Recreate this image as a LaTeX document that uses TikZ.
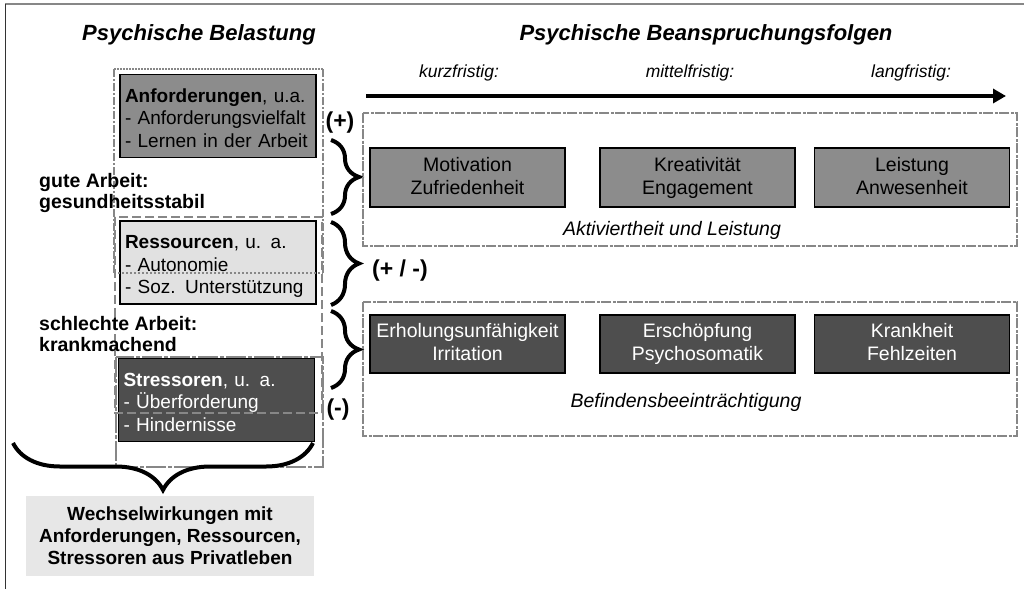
\documentclass[tikz,border=0pt]{standalone}
\usepackage{fontspec}
\setmainfont{Liberation Sans}
\usetikzlibrary{arrows.meta,decorations.pathreplacing}
\definecolor{midgray}{RGB}{140,140,140}
\definecolor{lightbox}{RGB}{225,225,225}
\definecolor{darkbox}{RGB}{78,78,78}
\definecolor{wwgray}{RGB}{231,231,231}
\definecolor{linegray}{RGB}{135,135,135}
\newcommand\fntbox{\fontsize{19}{22.5}\selectfont}
\newcommand\fntrbox{\fontsize{19.5}{23}\selectfont}
\newcommand\fnthead{\fontsize{22}{26}\selectfont\bfseries\itshape}
\newcommand\fnttime{\fontsize{17.5}{21}\selectfont\itshape}
\newcommand\fntital{\fontsize{19.5}{23}\selectfont\itshape}
\newcommand\fntbold{\fontsize{19.5}{21.5}\selectfont\bfseries}
\newcommand\fntww{\fontsize{19}{22}\selectfont\bfseries}
\newcommand\fntsign{\fontsize{23}{26}\selectfont\bfseries}
\begin{document}
\begin{tikzpicture}[x=1pt,y=-1pt,
  lbox/.style={draw=black, line width=1.5pt, minimum height=83pt, text width=186pt,
    inner xsep=5pt, inner ysep=0pt, align=left, font=\fntbox,
    execute at begin node={\rule{0pt}{1.15em}}, execute at end node={\vphantom{g}}},
  rbox/.style={draw=black, line width=1.5pt, minimum width=195pt, minimum height=59pt,
    inner sep=0pt, align=center, font=\fntrbox,
    execute at begin node={\rule{0pt}{1.05em}}, execute at end node={\vphantom{g}}},
  grouprect/.style={draw=linegray, line width=2.5pt, dash pattern=on 10pt off 1.5pt on 3pt off 1.5pt},
  leftrect/.style={draw=linegray, line width=2pt},
  bracestyle/.style={line width=4pt, decorate, decoration={brace, amplitude=28pt}},
  lbl/.style={inner sep=0pt}
]
\useasboundingbox (0,0) rectangle (1024,589);

% outer frame
\draw[linegray, line width=1.5pt] (1024,4) -- (5,4);
\draw[black!80, line width=1pt] (5,4) -- (5,589);

% headers
\node[lbl, font=\fnthead] (h1) at (199,35) {Psychische Belastung};
\node[lbl, font=\fnthead] (h2) at (706,35) {Psychische Beanspruchungsfolgen};

% time labels and arrow
\node[lbl, font=\fnttime] (t1) at (459,73) {kurzfristig:};
\node[lbl, font=\fnttime] (t2) at (690,73) {mittelfristig:};
\node[lbl, font=\fnttime] (t3) at (911,73) {langfristig:};
\coordinate (arA) at (366,96);
\coordinate (arB) at (1006,96);
\draw[line width=4pt, -{Triangle[length=13pt,width=14pt]}] (arA) -- (arB);

% left boxes
\node[lbox, fill=midgray] (anf) at (218,116)
  {\textbf{Anforderungen}, u.a.\\- Anforderungsvielfalt\\- Lernen in der Arbeit};
\node[lbox, fill=lightbox] (res) at (218,262.5)
  {\textbf{Ressourcen}, u. a.\\- Autonomie\\- Soz. Unterstützung};
\node[lbox, fill=darkbox, text=white] (str) at (216.5,400)
  {\textbf{Stressoren}, u. a.\\- Überforderung\\- Hindernisse};

% overlapping group rectangles on the left
\draw[leftrect, dash pattern=on 8pt off 2pt on 2pt off 2pt] (114,69) -- (114,273);
\draw[leftrect, dash pattern=on 2pt off 1pt] (114,69) -- (323,69);
\draw[leftrect, dash pattern=on 8pt off 2pt on 2pt off 2pt] (323,69) -- (323,273);
\draw[leftrect, line width=1.5pt, dash pattern=on 2pt off 2pt] (114,273) -- (323,273);
\draw[leftrect, dash pattern=on 9pt off 4pt] (115,217) rectangle (322,413);
\draw[leftrect, dash pattern=on 20pt off 2pt on 4pt off 2pt] (116,357) rectangle (323,467);

% labels on the left
\node[lbl, font=\fntbold, anchor=west, align=left] (gut) at (39,193)
  {gute Arbeit:\\gesundheitsstabil};
\node[lbl, font=\fntbold, anchor=west, align=left] (schl) at (39,334)
  {schlechte Arbeit:\\krankmachend};

% signs
\node[lbl, font=\fntsign] (plus) at (340,123) {(+)};
\node[lbl, font=\fntsign] (pm) at (400,271) {(+ / -)};
\node[lbl, font=\fntsign] (minus) at (338,410) {(-)};

% braces
\coordinate (b1a) at (331,140);
\coordinate (b1b) at (331,214);
\coordinate (b2a) at (331,222);
\coordinate (b2b) at (331,305);
\coordinate (b3a) at (331,311);
\coordinate (b3b) at (331,388);
\draw[bracestyle] (b1a) -- (b1b);
\draw[bracestyle] (b2a) -- (b2b);
\draw[bracestyle] (b3a) -- (b3b);
\coordinate (b4a) at (313,443);
\coordinate (b4b) at (13,443);
\draw[line width=4pt, decorate, decoration={brace, amplitude=47pt, aspect=0.5}] (b4a) -- (b4b);

% interaction box
\node[fill=wwgray, minimum width=288pt, minimum height=80pt, inner sep=0pt,
  align=center, font=\fntww] (ww) at (170,535.5)
  {Wechselwirkungen mit\\Anforderungen, Ressourcen,\\Stressoren aus Privatleben};

% right group rectangles
\draw[grouprect] (363,113) rectangle (1017,246);
\draw[grouprect] (363,302) rectangle (1017,436);

% right boxes upper
\node[rbox, fill=midgray] (mot) at (467.5,177.5) {Motivation\\Zufriedenheit};
\node[rbox, fill=midgray] (kre) at (697.5,177.5) {Kreativität\\Engagement};
\node[rbox, fill=midgray] (lei) at (912,177.5) {Leistung\\Anwesenheit};
\node[lbl, font=\fntital] (akt) at (672,230) {Aktiviertheit und Leistung};

% right boxes lower
\node[rbox, fill=darkbox, text=white, minimum height=58pt] (erh) at (467.5,344) {Erholungsunfähigkeit\\Irritation};
\node[rbox, fill=darkbox, text=white, minimum height=58pt] (ers) at (697.5,344) {Erschöpfung\\Psychosomatik};
\node[rbox, fill=darkbox, text=white, minimum height=58pt] (kra) at (912,344) {Krankheit\\Fehlzeiten};
\node[lbl, font=\fntital] (bef) at (686,402) {Befindensbeeinträchtigung};
\end{tikzpicture}
\end{document}
